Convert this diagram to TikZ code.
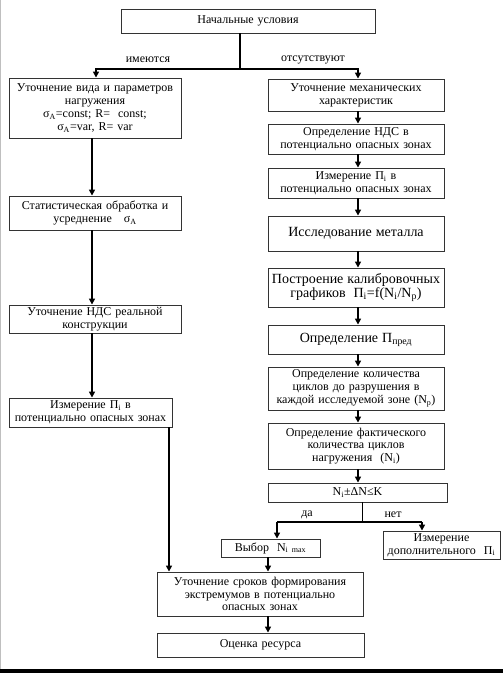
\documentclass[tikz,border=0pt]{standalone}
\usepackage{fontspec}
\setmainfont{Liberation Serif}
\usetikzlibrary{arrows.meta}
\newcommand\bx[6]{%
  \node[box, minimum width={(#4-#2)*1pt}, minimum height={(#5-#3)*1pt},
        text width={(#4-#2-2)*1pt}] (#1) at ({(#2+#4)/2},{(#3+#5)/2}) {#6};}
\newcommand\bigt{\fontsize{14}{16}\selectfont}
\tikzset{
  box/.style={draw=black!80, line width=0.9pt, inner sep=0pt, align=center,
              font=\fontsize{12}{12.8}\selectfont},
  conn/.style={line width=1.5pt, black},
  arr/.style={conn, -{Triangle[width=6pt,length=6pt]}},
  lbl/.style={inner sep=0pt, font=\fontsize{12}{13}\selectfont}
}
\begin{document}
\begin{tikzpicture}[x=1pt,y=-1pt]
\useasboundingbox (0,0) rectangle (503,673);
\fill[white] (0,0) rectangle (503,673);
\draw[black!25] (0.5,0) -- (0.5,669);
\fill[black] (0,668.5) rectangle (503,673);
% boxes
\bx{top}{121}{9}{375}{33}{Начальные условия}
\bx{L1}{9}{78}{181}{138}{Уточнение вида и параметров\\нагружения\\σ\textsubscript{A}=const; R=\ \ const;\\σ\textsubscript{A}=var, R= var}
\bx{L2}{9}{196}{181}{230}{Статистическая обработка и\\усреднение \ \ σ\textsubscript{A}}
\bx{L3}{9}{305}{181}{333}{Уточнение НДС реальной\\конструкции}
\bx{L4}{9}{398}{172}{427}{Измерение П\textsubscript{i} в\\потенциально опасных зонах}
\bx{R1}{268}{79}{444}{111}{Уточнение механических\\характеристик}
\bx{R2}{268}{124}{444}{154}{Определение НДС в\\потенциально опасных зонах}
\bx{R3}{268}{168}{444}{198}{Измерение П\textsubscript{i} в\\потенциально опасных зонах}
\bx{R4}{268}{216}{444}{251}{\bigt Исследование металла}
\bx{R5}{268}{268}{444}{307}{\bigt Построение калибровочных\\графиков\ \ П\textsubscript{i}=f(N\textsubscript{i}/N\textsubscript{p})}
\bx{R6}{268}{325}{444}{354}{\bigt Определение П\textsubscript{пред}}
\bx{R7}{268}{367}{444}{410}{Определение количества\\циклов до разрушения в\\каждой исследуемой зоне (N\textsubscript{p})}
\bx{R8}{268}{423}{444}{469}{Определение фактического\\количества циклов\\нагружения\ \ (N\textsubscript{i})}
\bx{R9}{268}{483}{447}{502}{N\textsubscript{i}±ΔN≤K}
\bx{vyb}{221}{539}{320}{557}{Выбор\ \ N\textsubscript{i max}}
\bx{dop}{383}{531}{500}{559}{Измерение\\дополнительного\ \ П\textsubscript{i}}
\bx{srok}{157}{572}{363}{616}{Уточнение сроков формирования\\экстремумов в потенциально\\опасных зонах}
\bx{ots}{157}{633}{364}{657}{Оценка ресурса}
% connector coordinates
\coordinate (s1) at (240,69);
\coordinate (sl) at (96,69);
\coordinate (lc) at (92,0);
\coordinate (rc) at (358,0);
\coordinate (lx) at (169,500);
\coordinate (sp) at (362,522);
\coordinate (dA) at (277,522);
\coordinate (dB) at (422,522);
% connectors
\draw[conn] (top.south -| s1) -- (s1);
\draw[arr] (s1) -- (sl) -- (sl |- L1.north);
\draw[arr] (s1) -| (R1.north -| rc);
\draw[arr] (L1.south -| lc) -- (L2.north -| lc);
\draw[arr] (L2.south -| lc) -- (L3.north -| lc);
\draw[arr] (L3.south -| lc) -- (L4.north -| lc);
\draw[arr] (L4.south -| lx) -- (srok.north -| lx);
\draw[arr] (R1.south -| rc) -- (R2.north -| rc);
\draw[arr] (R2.south -| rc) -- (R3.north -| rc);
\draw[arr] (R3.south -| rc) -- (R4.north -| rc);
\draw[arr] (R4.south -| rc) -- (R5.north -| rc);
\draw[arr] (R5.south -| rc) -- (R6.north -| rc);
\draw[arr] (R6.south -| rc) -- (R7.north -| rc);
\draw[arr] (R7.south -| rc) -- (R8.north -| rc);
\draw[arr] (R8.south -| rc) -- (R9.north -| rc);
\draw[conn, line width=1pt] (R9.south -| sp) -- (sp);
\draw[conn] (dA) -- (dB);
\draw[arr] (dA) -- (dA |- vyb.north);
\draw[arr] (dB) -- (dB |- dop.north);
\draw[arr] (vyb.south -| srok.north) ++(8,0) coordinate (vx) (vyb.south -| vx) -- (srok.north -| vx);
\draw[arr] (srok.south -| vx) -- (ots.north -| vx);
% labels
\node[lbl] (l1) at (148,60) {имеются};
\node[lbl] (l2) at (313,60) {отсутствуют};
\node[lbl] (l3) at (307,515) {да};
\node[lbl] (l4) at (393,515) {нет};
\end{tikzpicture}
\end{document}
